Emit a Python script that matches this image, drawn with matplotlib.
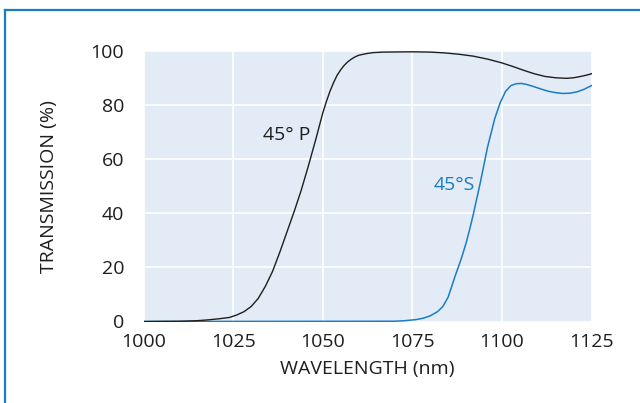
import matplotlib
matplotlib.use("Agg")
import matplotlib.pyplot as plt
from matplotlib.lines import Line2D

plt.rcParams['font.family'] = ['Open Sans', 'DejaVu Sans']

p_wl = [1000, 1005, 1010, 1015, 1018, 1021, 1024, 1026, 1028, 1030, 1032, 1034, 1036, 1038,
        1040, 1042, 1044, 1046, 1048, 1050, 1051, 1052, 1053, 1054, 1055, 1056, 1057, 1058,
        1059, 1060, 1062, 1064, 1067, 1075, 1080, 1084, 1088, 1092, 1096, 1100, 1103, 1106,
        1109, 1112, 1115, 1118, 1120, 1122, 1124, 1125]
p_t = [0, 0.05, 0.1, 0.3, 0.6, 1.0, 1.5, 2.4, 3.6, 5.5, 8.5, 13, 18.5, 25.5,
       33, 40.5, 48.5, 57.5, 67, 77, 81.2, 85, 88.2, 91, 93, 94.7, 96, 97,
       97.8, 98.4, 99.0, 99.4, 99.6, 99.7, 99.6, 99.3, 98.8, 98.1, 97.0, 95.6, 94.3, 92.9,
       91.6, 90.6, 90.1, 89.9, 90.1, 90.6, 91.2, 91.6]

s_wl = [1000, 1070, 1073, 1076, 1078, 1080, 1082, 1083.5, 1085, 1086, 1087, 1088, 1089, 1090,
        1091, 1092, 1093, 1094, 1096, 1098, 1099.5, 1101, 1102.5, 1104, 1105.5, 1107, 1109,
        1111, 1113, 1115, 1117, 1119, 1121, 1123, 1125]
s_t = [0, 0.1, 0.3, 0.7, 1.2, 2.1, 3.6, 5.5, 9, 13, 17, 20.7, 24.6, 29,
       34, 39.5, 45.5, 51.5, 64.5, 75, 80.8, 85, 87.2, 87.9, 88.0, 87.6, 86.8,
       85.9, 85.1, 84.6, 84.3, 84.4, 84.9, 85.9, 87.2]

x_ticks = [1000, 1025, 1050, 1075, 1100, 1125]
y_ticks = [0, 20, 40, 60, 80, 100]

BLUE = '#1a7dc4'
TXT = '#1e1e1e'

fig = plt.figure(figsize=(6.4, 4.03), dpi=100)
W, H = 640, 403
ax = fig.add_axes([143.5 / W, 1 - 321.5 / H, (591.5 - 143.5) / W, (321.5 - 51) / H])
ax.set_facecolor('#e3ebf6')
ax.set_xlim(1000, 1125)
ax.set_ylim(0, 100)
ax.set_xticks(x_ticks)
ax.set_yticks(y_ticks)
ax.grid(True, color='white', linewidth=1.2)
ax.set_axisbelow(True)
for s in ax.spines.values():
    s.set_visible(False)
ax.tick_params(length=0, labelsize=14, colors=TXT)
ax.tick_params(axis='y', pad=14)
ax.tick_params(axis='x', pad=8)

ax.plot(s_wl, s_t, color=BLUE, linewidth=1.1)
ax.plot(p_wl, p_t, color=TXT, linewidth=1.0)

ax.text(1040, 69, '45° P', color=TXT, fontsize=14, ha='center', va='center')
ax.text(1086.8, 50.4, '45°S', color=BLUE, fontsize=14, ha='center', va='center')

ax.set_xlabel('WAVELENGTH (nm)', fontsize=14, color=TXT, labelpad=7)
ax.set_ylabel('TRANSMISSION (%)', fontsize=14, color=TXT, labelpad=23)

fig.add_artist(Line2D([5 / W, 5 / W], [0, 1 - 9.5 / H], color=BLUE, linewidth=1.6))
fig.add_artist(Line2D([5 / W, 1], [1 - 9.5 / H, 1 - 9.5 / H], color=BLUE, linewidth=1.6))

fig.savefig('out.png', dpi=100)
